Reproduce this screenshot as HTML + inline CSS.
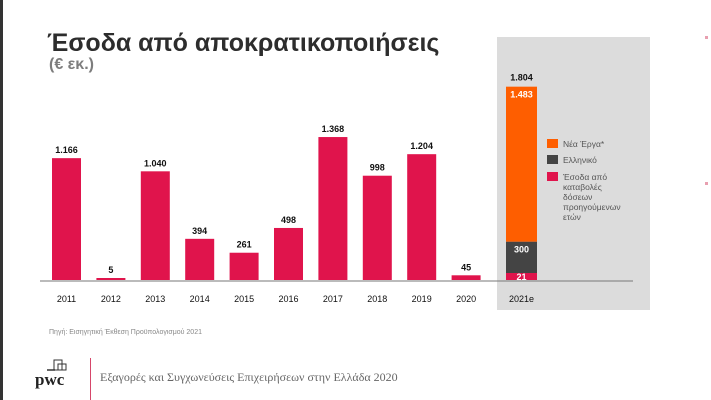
<!DOCTYPE html>
<html><head><meta charset="utf-8"><style>
body{margin:0;width:711px;height:400px;overflow:hidden;background:#fff;font-family:"Liberation Sans",Arial,sans-serif;position:relative}
</style></head><body>
<div style="position:absolute;left:0;top:0;width:3px;height:400px;background:#333"></div>
<div style="position:absolute;left:47px;top:29px;font-size:25px;font-weight:bold;color:#2d2d2d">Έσοδα από αποκρατικοποιήσεις</div>
<div style="position:absolute;left:49px;top:56px;font-size:16px;font-weight:bold;color:#7d7d7d">(€ εκ.)</div>
<svg id="c" width="711" height="400" style="position:absolute;left:0;top:0" font-family="Liberation Sans, Arial, sans-serif"></svg>
<div style="position:absolute;left:49px;top:329px;font-size:7px;color:#888">Πηγή: Εισηγητική Έκθεση Προϋπολογισμού 2021</div>
<div style="position:absolute;left:35px;top:358px;width:45px;height:36px">
<svg width="45" height="36"><rect x="19" y="2" width="8" height="10" fill="none" stroke="#333" stroke-width="1"/><rect x="23" y="6" width="8" height="6" fill="none" stroke="#333" stroke-width="1"/><line x1="12" y1="12" x2="20" y2="12" stroke="#333" stroke-width="1.5"/><text x="0" y="27" font-family="Liberation Serif, serif" font-weight="bold" font-size="17" fill="#222">pwc</text></svg></div>
<div style="position:absolute;left:90px;top:358px;width:1px;height:42px;background:#d6466a"></div>
<div style="position:absolute;left:100px;top:370px;font-family:'Liberation Serif',serif;font-size:12px;color:#666">Εξαγορές και Συγχωνεύσεις Επιχειρήσεων στην Ελλάδα 2020</div>
<div style="position:absolute;left:705px;top:36px;width:3px;height:3px;background:#e8a0b0"></div>
<div style="position:absolute;left:705px;top:182px;width:3px;height:3px;background:#e8a0b0"></div>
<script>
const years=["2011","2012","2013","2014","2015","2016","2017","2018","2019","2020"];
const values=[1166,5,1040,394,261,498,1368,998,1204,45];
const labels=["1.166","5","1.040","394","261","498","1.368","998","1.204","45"];
const stackCat="2021e";
const stackValues=[21,300,1483];
const stackLabels=["21","300","1.483"];
const stackTotal="1.804";
const seriesNames=["Νέα Έργα*","Ελληνικό","Έσοδα από καταβολές δόσεων προηγούμενων ετών"];
const svg=document.getElementById('c');const NS="http://www.w3.org/2000/svg";
function mk(t,a,p){const e=document.createElementNS(NS,t);for(const key in a)e.setAttribute(key,a[key]);(p||svg).appendChild(e);return e;}
const base=280,kScale=0.1045,x0=66.5,step=44.4,bw=29;
const barH=v=>Math.max(2,v*kScale);
const barY=v=>base-barH(v);
const bg=mk('rect',{x:497,y:37,width:153,height:273,fill:'#dcdcdc'});


years.forEach((yr,i)=>{const cx=x0+i*step;
const r=mk('rect',{x:cx-bw/2,y:barY(values[i]),width:bw,height:barH(values[i]),fill:'#e0144c'});


const t=mk('text',{x:cx,y:barY(values[i])-5,'text-anchor':'middle','font-size':9,'font-weight':'bold',fill:'#111'});t.textContent=labels[i];


const l=mk('text',{x:cx,y:302,'text-anchor':'middle','font-size':9,fill:'#111'});l.textContent=yr;

});
const cols=['#e0144c','#444','#fe5e00'];const sx=x0+10*step+11,sw=31;let stackTop=base;
stackValues.forEach((v,i)=>{const sh=Math.max(7,v*kScale);stackTop-=sh;
const r=mk('rect',{x:sx-sw/2,y:stackTop,width:sw,height:sh,fill:cols[i]});


const t=mk('text',{x:sx,y:sh<12?stackTop+sh:stackTop+11,'text-anchor':'middle','font-size':9,'font-weight':'bold',fill:'#fff'});t.textContent=stackLabels[i];

});
const tt=mk('text',{x:sx,y:stackTop-6,'text-anchor':'middle','font-size':9,'font-weight':'bold',fill:'#111'});tt.textContent=stackTotal;


const ax=mk('line',{x1:40,x2:633,y1:281,y2:281,stroke:'#777','stroke-width':1});


const sl=mk('text',{x:sx,y:302,'text-anchor':'middle','font-size':9,fill:'#111'});sl.textContent=stackCat;


const lcols=['#fe5e00','#444','#e0144c'];const ly=[139,155,172];
seriesNames.forEach((n,i)=>{const g=mk('g',{});


mk('rect',{x:547,y:ly[i],width:11,height:9,fill:lcols[i]},g);
const words=i==2?["Έσοδα από","καταβολές","δόσεων","προηγούμενων","ετών"]:[n];
words.forEach((w,j)=>{const t=mk('text',{x:563,y:ly[i]+8+j*10,'font-size':8.5,fill:'#555'},g);t.textContent=w;});});
</script>
</body></html>
